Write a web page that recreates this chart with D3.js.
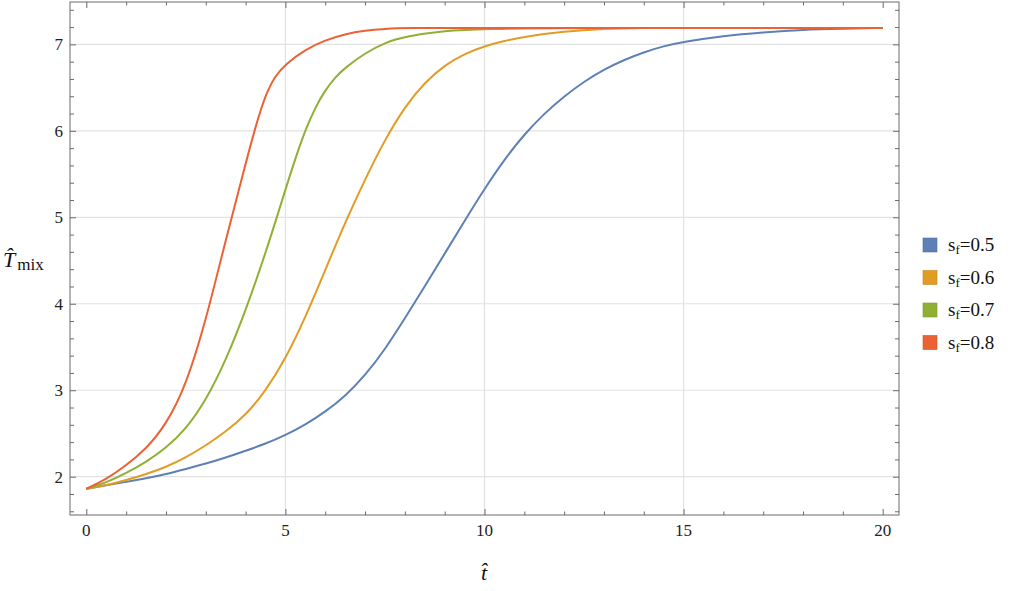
<!DOCTYPE html>
<html>
<head>
<meta charset="utf-8">
<script src="https://cdn.jsdelivr.net/npm/d3@7"></script>
<style>
  html, body { margin: 0; padding: 0; background: #fff; }
  svg { display: block; }
  svg text { font-family: "Liberation Serif", "DejaVu Serif", "Times New Roman", serif; }
</style>
</head>
<body>
<svg id="chart" width="1016" height="591" font-family="Liberation Serif, DejaVu Serif, serif"></svg>
<script>
// ---- data ----
const seriesNames = ["0.5", "0.6", "0.7", "0.8"];
const tSf05 = [0, 0.5, 1, 1.5, 2, 2.5, 3, 3.5, 4, 4.5, 5, 5.5, 6, 6.5, 7, 7.5, 8, 8.5, 9, 9.5, 10, 10.5, 11, 11.5, 12, 12.5, 13, 13.5, 14, 14.5, 15, 16, 17, 18, 19, 20];
const vSf05 = [1.86, 1.90, 1.94, 1.98, 2.03, 2.09, 2.15, 2.22, 2.30, 2.38, 2.48, 2.60, 2.75, 2.93, 3.17, 3.47, 3.83, 4.20, 4.58, 4.96, 5.33, 5.67, 5.96, 6.20, 6.40, 6.57, 6.71, 6.82, 6.91, 6.98, 7.03, 7.10, 7.14, 7.17, 7.18, 7.19];
const tSf06 = [0, 0.5, 1, 1.5, 2, 2.5, 3, 3.5, 4, 4.5, 5, 5.5, 6, 6.5, 7, 7.5, 8, 8.5, 9, 9.5, 10, 10.5, 11, 12, 13, 14, 15, 20];
const vSf06 = [1.86, 1.90, 1.96, 2.03, 2.11, 2.22, 2.36, 2.52, 2.71, 2.99, 3.36, 3.84, 4.39, 4.94, 5.44, 5.90, 6.28, 6.56, 6.76, 6.89, 6.98, 7.04, 7.09, 7.15, 7.18, 7.19, 7.19, 7.19];
const tSf07 = [0, 0.5, 1, 1.5, 2, 2.5, 3, 3.5, 4, 4.5, 5, 5.25, 5.5, 5.75, 6, 6.25, 6.5, 7, 7.5, 8, 9, 10, 12, 20];
const vSf07 = [1.86, 1.93, 2.04, 2.17, 2.33, 2.55, 2.88, 3.34, 3.92, 4.58, 5.32, 5.68, 6.01, 6.27, 6.47, 6.62, 6.73, 6.90, 7.02, 7.09, 7.16, 7.18, 7.19, 7.19];
const tSf08 = [0, 0.5, 1, 1.5, 2, 2.5, 3, 3.5, 4, 4.25, 4.5, 4.75, 5, 5.5, 6, 6.5, 7, 7.5, 8, 10, 20];
const vSf08 = [1.86, 1.97, 2.13, 2.32, 2.60, 3.05, 3.80, 4.74, 5.62, 6.05, 6.42, 6.64, 6.77, 6.94, 7.05, 7.12, 7.16, 7.18, 7.19, 7.19, 7.19];
const xMajorTicks = [0, 5, 10, 15, 20];
const yMajorTicks = [2, 3, 4, 5, 6, 7];
const colors = ["#5E81B5", "#E19C24", "#8FB032", "#EB6235"];

const allSeries = [
  d3.zip(tSf05, vSf05),
  d3.zip(tSf06, vSf06),
  d3.zip(tSf07, vSf07),
  d3.zip(tSf08, vSf08)
];

// ---- layout ----
const svg = d3.select("#chart");
const L = 70, R = 899, T = 2, B = 515;

const x = d3.scaleLinear().domain([-0.41, 20.41]).range([L, R]);
const y = d3.scaleLinear().domain([1.557, 7.49]).range([B, T]);

const frameColor = "#6b6b6b";

// gridlines
const grid = svg.append("g");
grid.selectAll("line.hg").data(yMajorTicks).enter().append("line")
  .attr("x1", L).attr("x2", R)
  .attr("y1", d => y(d)).attr("y2", d => y(d))
  .attr("stroke", "#e2e2e2").attr("stroke-width", 1.2);
grid.selectAll("line.vg").data(xMajorTicks.filter(d => d > 0 && d < 20)).enter().append("line")
  .attr("y1", T).attr("y2", B)
  .attr("x1", d => x(d)).attr("x2", d => x(d))
  .attr("stroke", "#e2e2e2").attr("stroke-width", 1.2);

// curves
const line = d3.line()
  .x(d => x(d[0]))
  .y(d => y(d[1]))
  .curve(d3.curveBasis);

svg.append("g").selectAll("path").data(allSeries).enter().append("path")
  .attr("d", d => line(d))
  .attr("fill", "none")
  .attr("stroke", (d, i) => colors[i])
  .attr("stroke-width", 2)
  .attr("stroke-linejoin", "round");

// frame
svg.append("rect").attr("x", L).attr("y", T).attr("width", R - L).attr("height", B - T)
  .attr("fill", "none").attr("stroke", frameColor).attr("stroke-width", 1);

// ticks (inward, on all four sides) via d3 axes
const xMinor = d3.range(0, 21, 1).filter(d => d % 5 !== 0);
const yMinor = d3.range(16, 75, 2).map(d => d / 10).filter(d => Math.abs(d - Math.round(d)) > 1e-6);

function styleAxis(g) {
  g.select(".domain").remove();
  g.selectAll(".tick line").attr("stroke", frameColor);
  g.selectAll(".tick text").remove();
}

// bottom
svg.append("g").attr("transform", `translate(0,${B})`)
  .call(d3.axisTop(x).tickValues(xMajorTicks).tickSize(6)).call(styleAxis);
svg.append("g").attr("transform", `translate(0,${B})`)
  .call(d3.axisTop(x).tickValues(xMinor).tickSize(3.5)).call(styleAxis);
// top
svg.append("g").attr("transform", `translate(0,${T})`)
  .call(d3.axisBottom(x).tickValues(xMajorTicks).tickSize(6)).call(styleAxis);
svg.append("g").attr("transform", `translate(0,${T})`)
  .call(d3.axisBottom(x).tickValues(xMinor).tickSize(3.5)).call(styleAxis);
// left
svg.append("g").attr("transform", `translate(${L},0)`)
  .call(d3.axisRight(y).tickValues(yMajorTicks).tickSize(6)).call(styleAxis);
svg.append("g").attr("transform", `translate(${L},0)`)
  .call(d3.axisRight(y).tickValues(yMinor).tickSize(4)).call(styleAxis);
// right
svg.append("g").attr("transform", `translate(${R},0)`)
  .call(d3.axisLeft(y).tickValues(yMajorTicks).tickSize(6)).call(styleAxis);
svg.append("g").attr("transform", `translate(${R},0)`)
  .call(d3.axisLeft(y).tickValues(yMinor).tickSize(4)).call(styleAxis);

// tick labels
svg.append("g").selectAll("text").data(xMajorTicks).enter().append("text")
  .attr("x", d => x(d)).attr("y", 536)
  .attr("text-anchor", "middle").attr("font-size", 17).attr("fill", "#222")
  .text(d => d);
svg.append("g").selectAll("text").data(yMajorTicks).enter().append("text")
  .attr("x", 63).attr("y", d => y(d) + 6)
  .attr("text-anchor", "end").attr("font-size", 17).attr("fill", "#222")
  .text(d => d);

// axis labels
const yl = svg.append("text").attr("x", 3).attr("y", 267).attr("fill", "#111");
yl.append("tspan").attr("font-size", 22).attr("font-style", "italic").text("T\u0302");
yl.append("tspan").attr("font-size", 17).attr("dx", 2).attr("dy", 3).text("mix");

svg.append("text").attr("x", 484).attr("y", 580).attr("font-size", 22)
  .attr("text-anchor", "middle")
  .attr("font-style", "italic").attr("fill", "#111").text("t\u0302");

// legend
const legend = svg.append("g");
const items = legend.selectAll("g").data(seriesNames).enter().append("g")
  .attr("transform", (d, i) => `translate(923,${238 + i * 32.5})`);
items.append("rect").attr("width", 14).attr("height", 14)
  .attr("fill", (d, i) => colors[i])
  .attr("stroke", (d, i) => d3.color(colors[i]).darker(0.4))
  .attr("stroke-width", 0.6);
const lt = items.append("text").attr("x", 25).attr("y", 13)
  .attr("font-size", 19).attr("fill", "#111");
lt.append("tspan").text("s");
lt.append("tspan").attr("font-size", 13).attr("dy", 3).text("f");
lt.append("tspan").attr("dy", -3).text(d => "=" + d);
</script>
</body>
</html>
